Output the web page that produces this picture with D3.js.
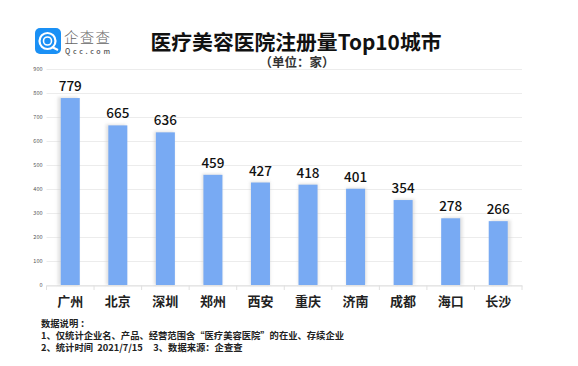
<!DOCTYPE html>
<html><head><meta charset="utf-8">
<script src="https://cdn.jsdelivr.net/npm/d3@7"></script>
<style>html,body{margin:0;padding:0;background:#fff}svg{display:block}
text{font-family:"Noto Sans CJK SC","Noto Sans",sans-serif}</style></head><body>
<script>
const categories=["广州","北京","深圳","郑州","西安","重庆","济南","成都","海口","长沙"];
const values=[779,665,636,459,427,418,401,354,278,266];
const yTicks=[0,100,200,300,400,500,600,700,800,900];
const title="医疗美容医院注册量Top10城市";
const subtitle="（单位：家）";
const notes=["数据说明 ：","1、仅统计企业名、产品、经营范围含“医疗美容医院”的在业、存续企业","2、统计时间  2021/7/15     3、数据来源：企查查"];

const svg=d3.select("body").append("svg").attr("width",578).attr("height",366);
const defs=svg.append("defs");
const blur=defs.append("filter").attr("id","sh").attr("x","-40%").attr("width","180%");
blur.append("feGaussianBlur").attr("stdDeviation",1.5);
const xAxisBand=d3.scaleBand().domain(categories).range([46.5,522]);
const y=d3.scaleLinear().domain([0,900]).range([285,69]);

// gridlines and y axis
const yAxis=d3.axisLeft(y).tickValues(yTicks).tickSize(-475.5).tickPadding(4);
const gy=svg.append("g").attr("transform","translate(46.5,0)").call(yAxis);
gy.select(".domain").remove();
gy.selectAll("line").attr("stroke","#ececec").attr("stroke-width",1);
gy.selectAll("text").attr("font-size",5.5).attr("fill","#555");

// x axis
const xAxis=d3.axisBottom(xAxisBand).tickSize(0).tickPadding(0).tickFormat("");
const gx=svg.append("g").attr("transform","translate(0,285.5)").call(xAxis);
gx.select(".domain").attr("stroke","#e0e0e0");
gx.selectAll(".tick").remove();
svg.append("g").selectAll("line").data(categories.map((c,i)=>i).concat(categories.length)).join("line")
  .attr("x1",i=>i<categories.length?xAxisBand(categories[i]):xAxisBand.range()[1])
  .attr("x2",i=>i<categories.length?xAxisBand(categories[i]):xAxisBand.range()[1])
  .attr("y1",285.5).attr("y2",290).attr("stroke","#e0e0e0");

// shadows, bars
const cx=c=>xAxisBand(c)+xAxisBand.bandwidth()/2;
svg.append("g").selectAll("rect").data(values).join("rect")
  .attr("x",(d,i)=>cx(categories[i])-10+(i-4.5)*0.55).attr("width",20)
  .attr("y",d=>y(d)-1).attr("height",d=>285-y(d)+1)
  .attr("fill","#cfcfcf").attr("opacity",.6).attr("filter","url(#sh)");
svg.append("g").selectAll("rect").data(values).join("rect")
  .attr("x",(d,i)=>cx(categories[i])-9.5).attr("width",19)
  .attr("y",d=>y(d)).attr("height",d=>285-y(d))
  .attr("fill","#78aaf3");

// value labels
svg.append("g").selectAll("text").data(values).join("text")
  .attr("x",(d,i)=>cx(categories[i])).attr("y",d=>y(d)-7)
  .attr("text-anchor","middle").attr("font-size",13.5).attr("font-weight",500).attr("fill","#111")
  .text(d=>d);

// category labels
svg.append("g").selectAll("text").data(categories).join("text")
  .attr("x",d=>cx(d)).attr("y",305.5)
  .attr("text-anchor","middle").attr("font-size",13).attr("font-weight",700).attr("fill","#222")
  .text(d=>d);

// title
svg.append("text").attr("x",150.5).attr("y",50).attr("font-size",20.8).attr("font-weight",700).attr("fill","#111").text(title);
svg.append("text").attr("x",297).attr("y",67).attr("text-anchor","middle").attr("font-size",12.5).attr("font-weight",700).attr("fill","#333").text(subtitle);

// logo
const logo=svg.append("g");
logo.append("rect").attr("x",35).attr("y",28).attr("width",26).attr("height",26).attr("rx",5).attr("fill","#1a90f5");
logo.append("circle").attr("cx",47.5).attr("cy",41).attr("r",8).attr("fill","none").attr("stroke","#fff").attr("stroke-width",2.2);
logo.append("circle").attr("cx",47.5).attr("cy",41).attr("r",4).attr("fill","none").attr("stroke","#fff").attr("stroke-width",1.6);
logo.append("line").attr("x1",52).attr("y1",47).attr("x2",58).attr("y2",50).attr("stroke","#fff").attr("stroke-width",2);
logo.append("text").attr("x",64).attr("y",42.5).attr("font-size",14.5).attr("font-weight",300).attr("fill","#666").attr("textLength",46).text("企查查");
logo.append("text").attr("x",65).attr("y",53.5).attr("font-size",7).attr("font-weight",500).attr("fill","#555").attr("textLength",45).text("Qcc.com");

// notes
svg.append("g").selectAll("text").data(notes).join("text")
  .attr("x",41).attr("y",(d,i)=>327+i*12)
  .style("white-space","pre")
  .attr("font-size",9.3).attr("font-weight",700).attr("fill","#222").text(d=>d);
</script></body></html>
